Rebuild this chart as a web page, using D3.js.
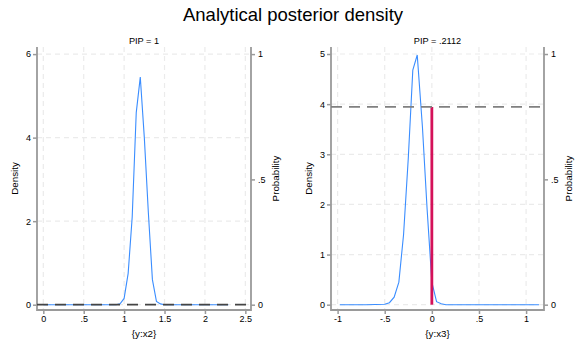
<!DOCTYPE html>
<html><head><meta charset="utf-8">
<script src="https://cdn.jsdelivr.net/npm/d3@7"></script>
<style>body{margin:0;background:#fff}svg{display:block;font-family:"Liberation Sans",Arial,sans-serif}</style>
</head><body>
<script>
// ---- data ----
const chartTitle = "Analytical posterior density";
const panelTitles = ["PIP = 1", "PIP = .2112"];
const xTitles = ["{y:x2}", "{y:x3}"];
const pip = [1, 0.2112];
// left panel: {y:x2}
const x2Grid    = [0, 0.5, 0.8, 0.9, 0.95, 1.0, 1.05, 1.1, 1.15, 1.2, 1.25, 1.3, 1.35, 1.4, 1.45, 1.5, 1.6, 2.0, 2.29];
const x2Density = [0, 0,   0,   0,   0.02, 0.15, 0.75, 2.1, 4.6, 5.45, 4.0, 2.2, 0.6, 0.08, 0.02, 0,  0,   0,   0];
// right panel: {y:x3}
const x3Grid    = [-0.977, -0.7, -0.5, -0.45, -0.40, -0.35, -0.30, -0.25, -0.202, -0.155, -0.10, -0.05, 0.0, 0.05, 0.10, 0.15, 0.3, 0.7, 1.136];
const x3Density = [0,      0,    0.01, 0.04,  0.15,  0.45,  1.40,  2.92,  4.68,   4.98,   3.55,  1.9,   0.45, 0.06, 0.02, 0,    0,   0,   0];
const xTicks = [[0, 0.5, 1, 1.5, 2, 2.5], [-1, -0.5, 0, 0.5, 1]];
const yTicks = [[0, 2, 4, 6], [0, 1, 2, 3, 4, 5]];
const pTicks = [0, 0.5, 1];
const fmt = v => { if (v === 0) return "0"; let s = String(v); return s.replace(/^0\./, ".").replace(/^-0\./, "-."); };

const W = 587, H = 352;
const svg = d3.select("body").append("svg").attr("width", W).attr("height", H);

svg.append("text").attr("x", 293).attr("y", 21).attr("text-anchor", "middle")
  .attr("font-size", 18.5).attr("fill", "#000").text(chartTitle);

const panels = [
  {L: 37, R: 251, xDom: [-0.078, 2.57], yDom: [-0.127, 6.17], xs: x2Grid, ys: x2Density, dashColor: "#444"},
  {L: 331, R: 544, xDom: [-1.07, 1.19], yDom: [-0.106, 5.14], xs: x3Grid, ys: x3Density, dashColor: "#808080"}
];
const T = 47, B = 310;
const axisCol = "#9a9a9a";

panels.forEach((p, i) => {
  const g = svg.append("g");
  const x = d3.scaleLinear().domain(p.xDom).range([p.L, p.R]);
  const y = d3.scaleLinear().domain(p.yDom).range([B, T]);
  const yp = d3.scaleLinear().domain([0, 1]).range([y(0), y(0) - (y(0) - (i === 0 ? y(6) : y(5)))]);

  // grid
  g.selectAll(".vg").data(xTicks[i]).join("line")
    .attr("x1", d => x(d)).attr("x2", d => x(d)).attr("y1", T).attr("y2", B)
    .attr("stroke", "#ebebeb").attr("stroke-width", 1.2).attr("stroke-dasharray", "5,4");
  g.selectAll(".hg").data(yTicks[i]).join("line")
    .attr("x1", p.L).attr("x2", p.R).attr("y1", d => y(d)).attr("y2", d => y(d))
    .attr("stroke", "#ebebeb").attr("stroke-width", 1.2).attr("stroke-dasharray", "5,4");

  // axes
  const ax = g.append("g").attr("transform", `translate(0,${B})`)
    .call(d3.axisBottom(x).tickValues(xTicks[i]).tickFormat(fmt).tickSize(4).tickPadding(2));
  const ay = g.append("g").attr("transform", `translate(${p.L},0)`)
    .call(d3.axisLeft(y).tickValues(yTicks[i]).tickFormat(fmt).tickSize(4).tickPadding(2));
  const ar = g.append("g").attr("transform", `translate(${p.R},0)`)
    .call(d3.axisRight(yp).tickValues(pTicks).tickFormat(fmt).tickSize(4).tickPadding(3));
  [ax, ay, ar].forEach(a => {
    a.select(".domain").remove();
    a.selectAll(".tick line").attr("stroke", axisCol).attr("stroke-width", 1.5);
    a.selectAll(".tick text").attr("font-size", 9).attr("fill", "#000").attr("font-family", "Liberation Sans, Arial, sans-serif");
  });
  g.append("line").attr("x1", p.L).attr("x2", p.L).attr("y1", T).attr("y2", B + 1).attr("stroke", axisCol).attr("stroke-width", 1.8);
  g.append("line").attr("x1", p.R).attr("x2", p.R).attr("y1", T).attr("y2", B + 1).attr("stroke", axisCol).attr("stroke-width", 1.8);
  g.append("line").attr("x1", p.L).attr("x2", p.R).attr("y1", B).attr("y2", B).attr("stroke", axisCol).attr("stroke-width", 1.8);

  // density line
  const pts = p.xs.map((v, k) => [v, p.ys[k]]);
  g.append("path").datum(pts)
    .attr("d", d3.line().x(d => x(d[0])).y(d => y(d[1])))
    .attr("fill", "none").attr("stroke", "#3a8dff").attr("stroke-width", 1.1);

  // spike at zero with height 1 - PIP
  const pz = 1 - pip[i];
  if (pz > 0) {
    g.append("line").attr("x1", x(0)).attr("x2", x(0)).attr("y1", yp(0)).attr("y2", yp(pz))
      .attr("stroke", "#d41159").attr("stroke-width", 2.8);
  }
  g.append("line").attr("x1", p.L).attr("x2", p.R).attr("y1", yp(pz)).attr("y2", yp(pz))
    .attr("stroke", p.dashColor).attr("stroke-width", 1.8).attr("stroke-dasharray", "11,7");

  // titles
  const cx = (p.L + p.R) / 2;
  g.append("text").attr("x", cx).attr("y", 44).attr("text-anchor", "middle").attr("font-size", 9.2).text(panelTitles[i]);
  g.append("text").attr("x", cx).attr("y", 337).attr("text-anchor", "middle").attr("font-size", 9.8).text(xTitles[i]);
  g.append("text").attr("transform", `translate(${p.L - 19.5},${(T + B) / 2}) rotate(-90)`)
    .attr("text-anchor", "middle").attr("font-size", 9.8).text("Density");
  g.append("text").attr("transform", `translate(${p.R + 28},${(T + B) / 2}) rotate(-90)`)
    .attr("text-anchor", "middle").attr("font-size", 9.8).text("Probability");
});
</script>
</body></html>
